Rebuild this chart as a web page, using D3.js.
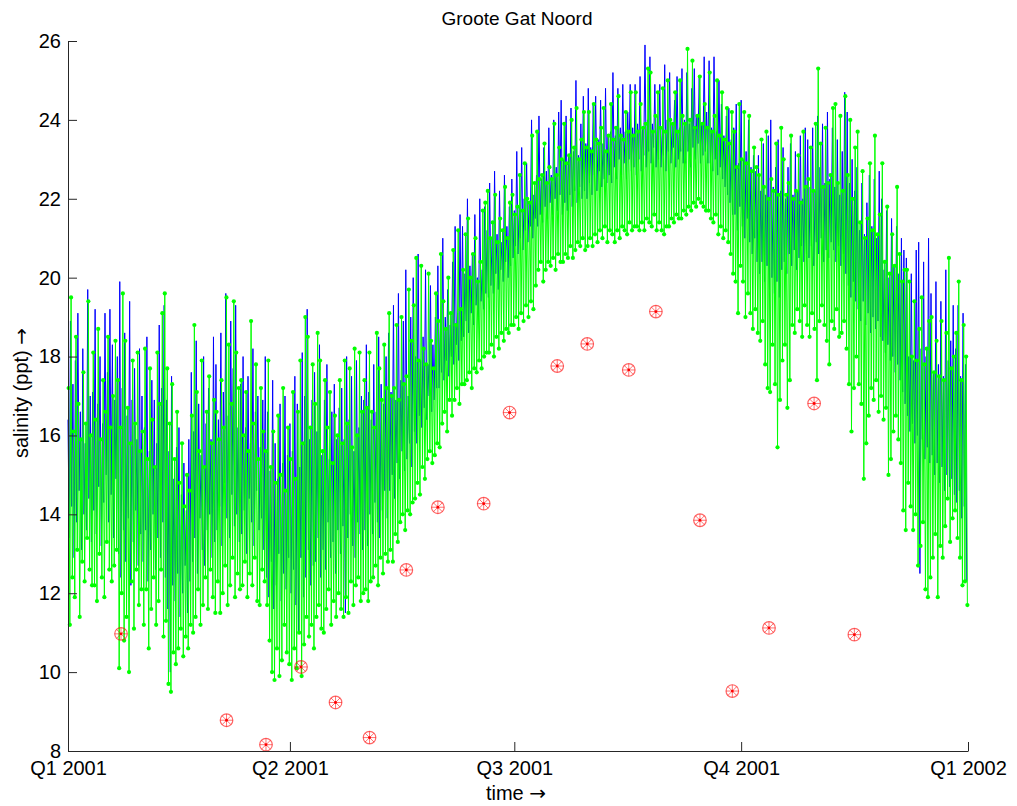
<!DOCTYPE html>
<html>
<head>
<meta charset="utf-8">
<script src="https://cdn.jsdelivr.net/npm/d3@7"></script>
<style>
  body { margin: 0; background: #fff; }
  svg { font-family: 'Liberation Sans', Arial, sans-serif; }
</style>
</head>
<body>
<div id="chart"></div>
<script>
const chartTitle = 'Groote Gat Noord';
const startDate = '2001-01-01T00:00:00Z';
const endDate = '2002-01-01T00:00:00Z';
const quarterTicks = ['2001-01-01T00:00:00Z', '2001-04-01T00:00:00Z', '2001-07-01T00:00:00Z', '2001-10-01T00:00:00Z', '2002-01-01T00:00:00Z'];
const quarterLabels = ['Q1 2001', 'Q2 2001', 'Q3 2001', 'Q4 2001', 'Q1 2002'];
const yTicks = [8, 10, 12, 14, 16, 18, 20, 22, 24, 26];

// green (with dots): daily high and low water salinity, day 0 = 1 Jan 2001
const greenHigh = [
  17.2, 19.5, 16.1, 18.5, 16.8, 15.9, 17.6, 16.3, 19.4, 16.0,
  18.1, 16.4, 18.7, 15.9, 17.4, 16.6, 18.5, 16.2, 17.0, 18.4,
  17.4, 16.2, 19.6, 18.4, 16.7, 15.8, 17.9, 16.3, 18.1, 15.6,
  16.1, 18.2, 15.4, 17.7, 16.4, 15.2, 18.1, 16.8, 19.1, 19.6,
  17.7, 16.3, 17.3, 15.4, 16.6, 14.8, 15.8, 14.2, 15.0, 14.6,
  16.5, 18.8, 17.1, 15.6, 17.9, 15.2, 16.6, 17.5, 15.8, 16.9,
  16.6, 15.9, 17.4, 16.2, 19.5, 18.3, 16.8, 19.4, 18.1, 17.2,
  17.4, 16.0, 17.1, 15.6, 18.9, 16.3, 17.8, 15.4, 17.2, 16.1,
  15.6, 17.9, 15.2, 16.1, 14.8, 16.5, 15.0, 17.2, 14.6, 16.2,
  15.4, 17.1, 14.9, 16.6, 17.9, 15.8, 19.0, 18.5, 16.2, 17.8,
  16.8, 18.6, 17.9, 15.6, 17.4, 16.2, 17.1, 15.3, 16.5, 16.0,
  17.4, 15.8, 17.9, 16.3, 17.7, 15.7, 18.2, 16.0, 18.1, 16.6,
  17.4, 16.7, 18.1, 16.6, 16.2, 18.6, 17.7, 16.9, 18.3, 17.2,
  19.1, 17.0, 17.2, 18.8, 16.9, 19.0, 17.3, 17.5, 19.7, 18.4,
  19.3, 20.5, 17.9, 20.3, 18.2, 17.8, 20.1, 18.4, 17.7, 19.6,
  18.9, 20.6, 19.4, 18.7, 20.0, 19.1, 20.7, 18.8, 21.2, 19.2,
  20.2, 21.1, 21.5, 20.0, 20.6, 21.0, 19.9, 20.4, 21.7, 21.9,
  22.2, 21.0, 21.4, 22.1, 20.9, 21.5, 21.2, 22.3, 21.0, 21.9,
  22.1, 21.6, 21.8, 22.6, 21.7, 22.9, 22.0, 21.9, 23.6, 22.4,
  23.7, 22.5, 22.6, 23.4, 22.4, 22.8, 22.5, 23.9, 22.6, 23.3,
  23.0, 23.9, 22.9, 23.1, 24.0, 23.3, 24.3, 23.0, 23.5, 24.2,
  23.3, 24.2, 23.2, 24.4, 23.5, 23.4, 23.8, 24.3, 23.2, 23.6,
  24.4, 23.5, 23.8, 24.6, 23.6, 23.5, 24.2, 23.7, 24.7, 23.6,
  24.7, 23.7, 24.4, 23.8, 23.9, 25.3, 25.2, 23.7, 24.1, 24.7,
  23.8, 24.8, 23.7, 25.0, 24.0, 23.9, 24.7, 23.7, 25.0, 24.1,
  23.9, 25.8, 24.0, 25.5, 23.8, 24.1, 25.1, 23.9, 24.4, 23.8,
  25.2, 23.7, 24.1, 25.0, 23.6, 24.7, 23.5, 24.3, 23.4, 24.2,
  23.7, 22.8, 24.4, 23.0, 24.2, 22.9, 24.1, 22.7, 23.3, 22.8,
  22.6, 23.5, 22.3, 23.7, 22.0, 22.5, 22.2, 23.4, 22.1, 23.8,
  23.0, 22.1, 22.4, 23.6, 22.0, 22.2, 23.1, 21.9, 23.7, 22.3,
  22.5, 23.3, 22.2, 23.9, 25.3, 23.4, 22.3, 23.8, 22.4, 22.6,
  24.3, 24.4, 22.4, 24.1, 22.2, 24.6, 22.6, 24.0, 22.0, 23.3,
  23.7, 21.4, 22.7, 21.0, 21.5, 22.9, 21.2, 23.6, 21.1, 21.6,
  22.9, 20.4, 21.8, 20.1, 21.1, 20.3, 22.3, 20.6, 19.9, 20.2,
  20.2, 19.9, 18.0, 19.4, 17.9, 18.7, 19.5, 17.8, 18.2, 18.9,
  19.0, 17.6, 18.4, 17.5, 18.9, 17.4, 18.6, 20.5, 17.7, 18.0,
  18.6, 19.9, 17.4, 18.8, 18.0
];
const greenLow = [
  11.2, 12.4, 11.9, 13.1, 11.4, 12.8, 12.3, 13.4, 12.6, 12.2,
  12.2, 11.8, 13.0, 12.4, 11.9, 13.3, 12.6, 12.3, 12.7, 13.1,
  10.1, 12.0, 10.8, 11.4, 10.0, 12.3, 11.1, 12.6, 11.7, 12.1,
  11.2, 12.1, 10.6, 11.6, 12.4, 11.2, 11.8, 12.6, 10.9, 11.3,
  9.7, 9.5, 10.5, 10.2, 10.6, 11.1, 10.4, 10.9, 10.6, 11.2,
  11.0, 11.4, 12.1, 11.2, 11.7, 12.4, 11.6, 12.6, 11.9, 11.5,
  12.3, 11.5, 12.0, 12.7, 11.7, 12.2, 12.9, 11.9, 12.5, 12.1,
  12.2, 12.8, 11.9, 12.5, 12.2, 12.9, 11.8, 11.7, 12.6, 12.3,
  11.7, 10.8, 10.0, 9.8, 10.6, 9.9, 10.3, 11.2, 10.5, 10.2,
  9.8, 10.6, 10.1, 11.0, 9.9, 10.7, 11.4, 10.9, 11.2, 10.6,
  11.4, 11.7, 11.1, 11.0, 11.6, 12.1, 11.2, 11.8, 11.4, 12.0,
  11.6, 11.4, 11.9, 11.5, 12.3, 11.7, 12.2, 12.4, 11.8, 12.0,
  12.1, 11.8, 12.3, 12.4, 12.7, 12.2, 12.9, 12.5, 13.0, 12.8,
  13.1, 12.8, 13.5, 13.3, 13.8, 14.0, 13.6, 14.1, 14.0, 14.3,
  14.4, 14.8, 14.5, 15.2, 14.9, 15.4, 15.6, 15.3, 15.5, 15.8,
  15.7, 16.3, 16.6, 16.1, 16.9, 16.5, 16.9, 17.2, 16.8, 17.3,
  17.3, 17.4, 17.6, 17.2, 17.7, 17.6, 17.9, 17.7, 18.0, 18.1,
  18.1, 18.3, 18.0, 18.5, 18.2, 18.6, 18.4, 18.7, 18.6, 18.8,
  18.8, 19.0, 18.7, 19.1, 18.9, 19.3, 19.0, 19.4, 19.2, 19.8,
  20.2, 20.4, 19.9, 20.2, 20.4, 20.3, 20.5, 20.2, 20.6, 20.4,
  20.4, 20.6, 20.5, 20.8, 20.5, 20.7, 20.9, 20.8, 21.0, 20.7,
  20.8, 21.0, 20.8, 21.1, 20.9, 21.2, 21.0, 21.3, 20.9, 21.2,
  21.1, 20.9, 21.2, 21.0, 21.3, 21.2, 21.1, 21.4, 21.2, 21.3,
  21.3, 21.2, 21.4, 21.2, 21.5, 21.4, 21.3, 21.6, 21.2, 21.4,
  21.2, 21.1, 21.3, 21.3, 21.5, 21.4, 21.6, 21.5, 21.5, 21.7,
  21.6, 21.8, 21.7, 21.9, 21.8, 22.0, 21.9, 21.8, 21.7, 21.7,
  21.5, 21.4, 21.6, 21.1, 21.3, 21.0, 21.2, 20.9, 20.6, 20.1,
  19.9, 19.1, 20.3, 19.9, 19.0, 19.6, 19.1, 18.7, 19.2, 18.6,
  18.4, 18.9, 17.8, 17.2, 17.1, 18.3, 17.3, 15.7, 16.9, 17.9,
  18.3, 16.7, 17.4, 18.8, 18.6, 19.2, 18.9, 18.5, 19.3, 18.8,
  18.5, 19.1, 18.7, 17.4, 18.9, 19.3, 18.8, 18.4, 17.8, 18.9,
  18.7, 19.2, 18.5, 18.6, 18.9, 18.2, 17.3, 16.1, 17.2, 18.0,
  17.3, 16.8, 14.9, 15.8, 16.5, 17.2, 16.9, 17.4, 16.6, 17.0,
  16.4, 16.7, 15.0, 15.4, 16.1, 16.5, 15.9, 15.3, 14.1, 13.6,
  14.8, 14.2, 13.6, 14.0, 12.7, 13.2, 13.8, 12.1, 11.9, 12.4,
  12.9, 13.5, 11.9, 13.2, 12.9, 13.7, 14.4, 13.3, 13.9, 14.1,
  13.4, 12.9, 12.2, 12.3, 11.7
];

// blue: daily high and low salinity of the second record
const blueHigh = [
  16.4, 18.9, 17.3, 17.9, 19.1, 16.6, 18.2, 15.8, 19.7, 17.0,
  17.1, 19.2, 16.8, 18.0, 16.3, 19.1, 17.6, 19.2, 18.3, 16.9,
  18.0, 19.9, 17.2, 18.6, 16.5, 19.4, 16.9, 17.7, 15.9, 18.2,
  17.0, 16.2, 18.5, 15.6, 17.4, 16.9, 15.8, 18.8, 17.2, 19.3,
  16.9, 15.6, 17.5, 14.9, 15.7, 16.2, 14.5, 15.3, 14.1, 15.9,
  17.6, 16.1, 18.4, 16.8, 15.5, 18.0, 16.3, 17.2, 15.9, 18.5,
  17.8, 16.4, 18.6, 17.1, 19.6, 16.5, 18.9, 17.7, 19.3, 16.2,
  17.3, 18.0, 16.2, 17.5, 15.8, 18.2, 16.6, 17.0, 15.7, 16.9,
  18.0, 16.6, 15.1, 17.4, 15.8, 14.9, 16.8, 15.3, 17.0, 15.5,
  16.3, 15.6, 17.5, 16.8, 15.2, 18.1, 17.0, 19.2, 15.9, 16.9,
  17.6, 16.1, 18.3, 15.5, 16.9, 17.8, 15.4, 16.6, 17.3, 15.9,
  16.7, 17.2, 15.9, 18.0, 16.4, 17.5, 15.6, 17.9, 16.2, 17.0,
  16.9, 18.3, 17.1, 16.4, 17.8, 16.6, 18.5, 17.3, 16.8, 18.0,
  18.6, 17.1, 19.3, 16.9, 19.6, 17.4, 18.9, 20.2, 17.0, 19.0,
  20.0, 18.0, 20.6, 17.9, 18.5, 20.2, 17.8, 19.8, 18.3, 19.0,
  20.3, 18.9, 21.0, 19.0, 19.7, 18.8, 20.4, 21.3, 19.1, 21.6,
  21.3, 20.1, 22.0, 20.3, 20.6, 21.6, 20.0, 22.0, 20.2, 21.8,
  21.2, 22.4, 21.0, 22.7, 21.1, 22.2, 20.9, 22.6, 21.3, 21.8,
  22.5, 21.7, 23.2, 21.8, 23.3, 22.0, 22.9, 21.9, 24.0, 22.1,
  22.6, 24.1, 22.5, 23.3, 22.7, 23.8, 22.6, 24.0, 22.8, 24.2,
  24.5, 23.0, 24.1, 23.1, 24.3, 23.2, 25.0, 23.1, 23.9, 24.6,
  23.4, 24.8, 23.3, 24.4, 24.6, 23.5, 24.5, 23.4, 24.8, 23.6,
  23.7, 25.2, 23.6, 24.8, 23.8, 24.9, 23.7, 24.2, 24.9, 23.8,
  24.9, 23.9, 25.1, 23.8, 25.9, 24.0, 25.6, 23.9, 24.9, 24.1,
  24.9, 23.8, 25.4, 24.0, 25.2, 23.9, 24.5, 25.1, 23.8, 25.3,
  24.0, 25.2, 23.9, 24.8, 25.3, 24.1, 25.1, 23.9, 25.6, 24.2,
  25.5, 23.8, 25.6, 23.7, 25.0, 24.4, 23.6, 24.1, 24.3, 23.5,
  23.8, 24.4, 22.9, 24.5, 23.0, 23.2, 24.0, 22.8, 23.1, 22.7,
  23.1, 22.2, 23.4, 22.1, 23.6, 24.0, 22.3, 22.8, 23.5, 22.2,
  23.3, 22.0, 22.8, 23.4, 22.1, 23.2, 22.2, 23.6, 22.0, 23.8,
  23.5, 22.3, 23.8, 22.2, 24.1, 22.8, 23.9, 22.4, 24.2, 22.5,
  23.8, 22.3, 23.5, 22.1, 23.2, 24.7, 24.2, 22.4, 23.0, 22.2,
  22.8, 21.2, 22.4, 21.1, 21.9, 22.6, 21.3, 22.5, 21.0, 22.7,
  22.0, 20.2, 21.7, 20.0, 21.5, 20.3, 21.3, 20.1, 21.0, 20.7,
  20.5, 18.0, 20.1, 17.9, 20.7, 20.9, 18.2, 20.4, 18.0, 21.0,
  19.6, 17.6, 19.9, 17.8, 19.4, 17.5, 20.2, 17.9, 18.4, 19.3,
  18.2, 19.3, 17.5, 19.1, 17.8
];
const blueLow = [
  13.4, 14.2, 12.9, 13.8, 14.6, 13.1, 14.0, 13.6, 14.4, 13.3,
  14.1, 13.5, 14.7, 13.2, 14.3, 15.0, 13.8, 14.5, 13.4, 14.9,
  13.0, 12.4, 13.6, 12.8, 13.9, 12.2, 13.3, 14.1, 12.7, 13.5,
  12.8, 13.6, 12.3, 13.1, 14.0, 12.6, 13.4, 12.9, 13.8, 12.4,
  11.6, 10.0, 12.2, 11.8, 12.5, 11.4, 12.0, 12.7, 11.5, 12.3,
  12.8, 13.4, 12.5, 13.9, 13.1, 12.7, 13.6, 14.0, 12.9, 13.3,
  13.6, 14.2, 13.2, 14.8, 13.9, 13.4, 14.5, 13.7, 14.0, 13.3,
  13.5, 14.1, 13.0, 14.4, 13.8, 13.2, 14.6, 13.6, 13.9, 13.1,
  12.4, 11.9, 12.8, 11.6, 12.2, 13.0, 11.8, 12.5, 12.1, 12.9,
  12.0, 12.6, 11.7, 11.0, 12.9, 11.9, 12.4, 13.1, 12.2, 12.7,
  12.8, 13.4, 12.4, 13.1, 12.6, 13.8, 12.9, 13.3, 12.5, 13.6,
  13.0, 13.7, 11.5, 13.4, 14.0, 13.2, 12.9, 13.8, 13.5, 13.1,
  13.6, 13.2, 14.0, 13.5, 14.3, 13.8, 13.4, 14.1, 14.6, 13.9,
  14.6, 15.0, 14.4, 15.3, 14.9, 15.6, 15.1, 15.4, 15.8, 15.2,
  16.1, 15.8, 16.5, 16.2, 16.7, 16.4, 17.0, 16.6, 16.9, 17.2,
  17.2, 17.6, 17.4, 17.9, 17.5, 18.0, 17.8, 18.3, 17.9, 18.4,
  18.5, 18.9, 18.6, 19.1, 18.8, 19.3, 19.0, 19.4, 19.2, 19.6,
  19.5, 19.8, 19.6, 20.1, 19.7, 20.2, 19.9, 20.4, 20.0, 20.3,
  20.5, 20.8, 20.6, 21.0, 20.7, 21.2, 20.9, 21.3, 21.0, 21.5,
  21.3, 21.6, 21.4, 21.8, 21.5, 21.9, 21.6, 22.0, 21.7, 22.1,
  21.6, 21.9, 21.7, 22.1, 21.8, 22.2, 21.9, 22.3, 22.0, 22.2,
  22.0, 22.4, 22.1, 22.6, 22.2, 22.7, 22.3, 22.5, 22.4, 22.6,
  22.4, 22.8, 22.5, 23.0, 22.6, 22.9, 22.5, 23.0, 22.7, 22.8,
  22.6, 23.0, 22.7, 23.1, 22.8, 23.2, 22.9, 23.3, 22.8, 23.0,
  22.8, 23.1, 22.7, 23.2, 22.9, 23.3, 22.8, 23.0, 23.2, 22.9,
  22.9, 23.2, 22.8, 23.3, 23.0, 23.4, 22.9, 23.1, 23.2, 22.9,
  22.9, 22.7, 23.0, 22.6, 22.8, 22.5, 22.3, 22.1, 21.9, 21.6,
  21.6, 21.2, 21.8, 21.3, 21.0, 21.5, 20.9, 20.6, 21.0, 20.4,
  20.1, 20.4, 19.9, 20.3, 19.7, 20.0, 19.6, 19.9, 19.5, 20.2,
  20.4, 20.1, 20.6, 20.3, 20.7, 20.2, 20.5, 20.8, 20.4, 20.6,
  20.5, 20.8, 20.3, 20.9, 20.6, 21.0, 20.4, 20.7, 20.5, 20.9,
  20.7, 20.4, 20.8, 20.3, 20.6, 20.1, 19.8, 19.5, 19.9, 19.4,
  19.2, 18.9, 19.4, 18.8, 19.1, 18.6, 19.0, 18.7, 18.9, 18.5,
  18.4, 18.1, 18.3, 17.9, 18.0, 17.6, 17.8, 17.4, 17.1, 16.8,
  16.5, 16.1, 16.3, 15.8, 16.0, 12.5, 15.9, 15.4, 15.7, 15.3,
  15.5, 15.0, 15.3, 14.8, 15.2, 14.6, 15.0, 14.7, 14.9, 14.5,
  14.3, 14.6, 13.9, 14.2, 12.3
];

// red: bottle samples
const sampleDates = [
  '2001-01-22T12:00:00Z', '2001-03-06T07:00:00Z', '2001-03-22T07:00:00Z', '2001-04-05T12:00:00Z',
  '2001-04-19T12:00:00Z', '2001-05-03T07:00:00Z', '2001-05-18T05:00:00Z', '2001-05-31T00:00:00Z',
  '2001-06-18T14:00:00Z', '2001-06-29T02:00:00Z', '2001-07-18T10:00:00Z', '2001-07-30T14:00:00Z',
  '2001-08-16T10:00:00Z', '2001-08-27T10:00:00Z', '2001-09-14T07:00:00Z', '2001-09-27T10:00:00Z',
  '2001-10-12T07:00:00Z', '2001-10-30T14:00:00Z', '2001-11-15T22:00:00Z'
];
const sampleValues = [
  10.97, 8.78, 8.16, 10.13, 9.23, 8.34, 12.59, 14.18, 14.27, 16.58,
  17.76, 18.32, 17.66, 19.14, 13.85, 9.52, 11.12, 16.81, 10.95
];

const dayMs = 864e5;

const buildSeries = (highs, lows, offset) => {
  const t0 = new Date(startDate).getTime();
  const points = [];
  highs.forEach((v, i) => {
    points.push({ t: new Date(t0 + (i + offset) * dayMs), v });
    points.push({ t: new Date(t0 + (i + offset + 0.5) * dayMs), v: lows[i] });
  });
  return points;
};

const drawChart = () => {
  const width = 1017;
  const height = 806;
  const margin = { left: 68, right: 49, top: 41, bottom: 55 };
  const fontSize = 20;

  const svg = d3.select('#chart').append('svg')
    .attr('width', width)
    .attr('height', height);

  const x = d3.scaleUtc()
    .domain([new Date(startDate), new Date(endDate)])
    .range([margin.left, width - margin.right]);
  const y = d3.scaleLinear()
    .domain([8, 26])
    .range([height - margin.bottom, margin.top]);

  const line = d3.line()
    .x((d) => x(d.t))
    .y((d) => y(d.v));

  const blue = buildSeries(blueHigh, blueLow, 0);
  const green = buildSeries(greenHigh, greenLow, 0.25);

  // series
  svg.append('path')
    .datum(blue)
    .attr('fill', 'none')
    .attr('stroke', '#0000ff')
    .attr('stroke-width', 1)
    .attr('d', line);

  svg.append('path')
    .datum(green)
    .attr('fill', 'none')
    .attr('stroke', '#00ff00')
    .attr('stroke-width', 1)
    .attr('d', line);

  svg.append('g')
    .selectAll('circle')
    .data(green)
    .enter().append('circle')
    .attr('cx', (d) => x(d.t))
    .attr('cy', (d) => y(d.v))
    .attr('r', 2.1)
    .attr('fill', '#00ff00');

  // samples: circle with asterisk
  const samples = svg.append('g')
    .selectAll('g')
    .data(sampleDates.map((d, i) => ({ t: new Date(d), v: sampleValues[i] })))
    .enter().append('g')
    .attr('transform', (d) => `translate(${x(d.t)},${y(d.v)})`)
    .attr('stroke', '#ff0000')
    .attr('fill', 'none');

  samples.append('circle')
    .attr('r', 6.3)
    .attr('stroke-width', 1.2)
    .attr('stroke-opacity', 0.6);
  samples.append('path')
    .attr('d', 'M0,-6.3V6.3M-6.3,0H6.3M-4.4,-4.4L4.4,4.4M-4.4,4.4L4.4,-4.4')
    .attr('stroke-opacity', 0.55);
  samples.append('circle')
    .attr('r', 1.4)
    .attr('fill', '#ff0000')
    .attr('stroke', 'none');

  // axes
  const xAxis = d3.axisBottom(x)
    .tickValues(quarterTicks.map((d) => new Date(d)))
    .tickFormat((d, i) => quarterLabels[i])
    .tickSizeInner(-9)
    .tickSizeOuter(0)
    .tickPadding(10);

  const yAxis = d3.axisLeft(y)
    .tickValues(yTicks)
    .tickSizeInner(-9)
    .tickSizeOuter(0)
    .tickPadding(7);

  const gx = svg.append('g')
    .attr('transform', `translate(0,${height - margin.bottom})`)
    .call(xAxis);
  const gy = svg.append('g')
    .attr('transform', `translate(${margin.left},0)`)
    .call(yAxis);

  [gx, gy].forEach((g) => {
    g.attr('font-family', null).attr('font-size', fontSize);
    g.select('.domain').attr('stroke', '#262626');
    g.selectAll('.tick line').attr('stroke', '#262626');
    g.selectAll('.tick text').attr('fill', '#000');
  });

  // labels
  svg.append('text')
    .attr('x', 517)
    .attr('y', 25)
    .attr('text-anchor', 'middle')
    .attr('font-size', 19)
    .text(chartTitle);

  const xLabel = svg.append('text')
    .attr('x', 516)
    .attr('y', 800)
    .attr('text-anchor', 'middle')
    .attr('font-size', fontSize);
  xLabel.append('tspan').text('time ');
  xLabel.append('tspan').attr('font-family', 'DejaVu Sans').text('\u2192');

  const yLabel = svg.append('text')
    .attr('transform', 'translate(28,393) rotate(-90)')
    .attr('text-anchor', 'middle')
    .attr('font-size', fontSize);
  yLabel.append('tspan').text('salinity (ppt) ');
  yLabel.append('tspan').attr('font-family', 'DejaVu Sans').text('\u2192');
};

drawChart();
</script>
</body>
</html>
